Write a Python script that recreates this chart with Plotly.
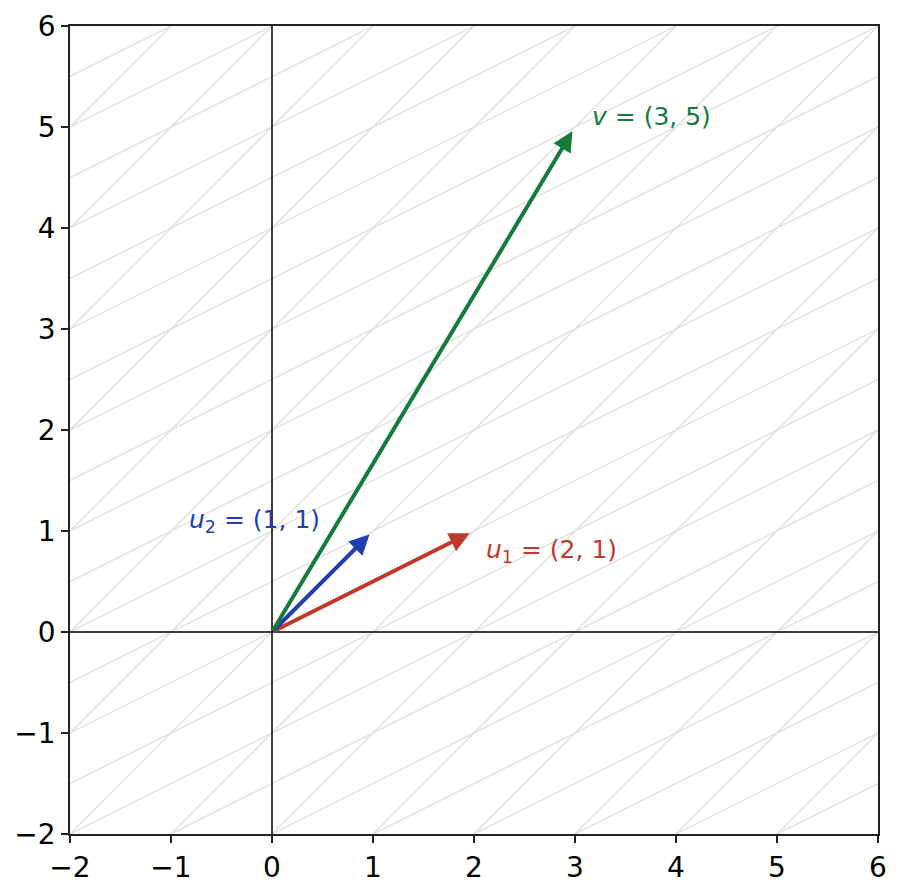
import plotly.graph_objects as go

# basis vectors and the target vector
u1 = [2, 1]
u2 = [1, 1]
v = [3, 5]

names = ["u1", "u2", "v"]
vectors = [u1, u2, v]
labels = ["<i>u</i><sub>1</sub> = (2, 1)", "<i>u</i><sub>2</sub> = (1, 1)", "<i>v</i> = (3, 5)"]
label_pos = [[2.1, 0.8], [-0.84, 1.1], [3.15, 5.1]]
colors = ["#c0392b", "#1f3fb0", "#157a3c"]

ticks = [-2, -1, 0, 1, 2, 3, 4, 5, 6]
lattice_range = range(-20, 21)

fig = go.Figure()


def lattice_lines(direction, step):
    # lines parallel to `direction` through every integer multiple of `step`
    xs, ys = [], []
    for k in lattice_range:
        px, py = k * step[0], k * step[1]
        xs += [px - 20 * direction[0], px + 20 * direction[0], None]
        ys += [py - 20 * direction[1], py + 20 * direction[1], None]
    return xs, ys


for d, s in [(u1, u2), (u2, u1)]:
    xs, ys = lattice_lines(d, s)
    fig.add_trace(go.Scatter(x=xs, y=ys, mode="lines", hoverinfo="skip",
                             line=dict(color="#e0e0e0", width=1.3), showlegend=False))

# axis lines through the origin
fig.add_shape(type="line", x0=0, x1=0, y0=-2, y1=6, line=dict(color="black", width=1.5), layer="above")
fig.add_shape(type="line", x0=-2, x1=6, y0=0, y1=0, line=dict(color="black", width=1.5), layer="above")

for vec, col in zip(vectors, colors):
    fig.add_annotation(x=vec[0], y=vec[1], ax=0, ay=0, xref="x", yref="y", axref="x", ayref="y",
                       text="", showarrow=True, arrowhead=2, arrowsize=1.0, arrowwidth=4,
                       arrowcolor=col, standoff=5)

for txt, pos, col in zip(labels, label_pos, colors):
    fig.add_annotation(x=pos[0], y=pos[1], text=txt, showarrow=False, xanchor="left", yanchor="middle",
                       font=dict(family="DejaVu Sans", size=25, color=col))

axis_style = dict(range=[-2, 6], tickvals=ticks, showgrid=False, zeroline=False, automargin=False,
                  showline=True, mirror=True, linecolor="#222", linewidth=1.8,
                  ticks="outside", ticklen=7, tickwidth=1.7, tickcolor="#222",
                  tickfont=dict(family="DejaVu Sans", size=28, color="black"))

fig.update_xaxes(**axis_style)
fig.update_yaxes(**axis_style)
# page body adds a small offset, so the figure is sized to fit inside the window
fig.update_layout(width=893, height=882, margin=dict(l=62, r=23, t=18, b=56),
                  plot_bgcolor="white", paper_bgcolor="white", showlegend=False)

fig.write_html("out.html")
